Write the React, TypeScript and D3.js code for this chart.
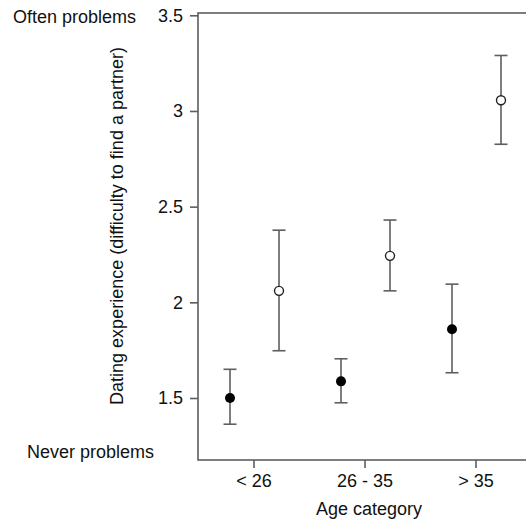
import React, { useEffect, useRef } from "react";
import * as d3 from "d3";

// age groups on the x axis
const categories = ["< 26", "26 - 35", "> 35"];
// two groups per age category: filled dots and open dots
const groups = ["filled", "open"];

const filledMean = [1.5, 1.587, 1.859];
const filledLow = [1.363, 1.475, 1.632];
const filledHigh = [1.65, 1.705, 2.095];

const openMean = [2.06, 2.243, 3.056];
const openLow = [1.747, 2.06, 2.826];
const openHigh = [2.377, 2.43, 3.29];

const yTicks = [1.5, 2, 2.5, 3, 3.5];

const W = 526;
const H = 521;
const FONT = "'Liberation Sans', Arial, sans-serif";

function App() {
  const svgRef: any = useRef(null);

  useEffect(() => {
    draw();
  }, []);

  const draw = () => {
    const root = d3.select(svgRef.current);
    root.selectAll("*").remove();

    const left = 198;
    const top = 13;
    const bottom = 460;
    const axisColor = "#5e5e5e";

    const y = d3.scaleLinear().domain([1.176, 3.512]).range([bottom, top]);
    const x = d3.scaleBand().domain(categories).range([198.5, 531.5]);
    const offset = d3.scalePoint().domain(groups).range([-24, 25]);

    const svg = root.append("g");

    // frame
    svg
      .append("rect")
      .attr("x", left)
      .attr("y", top)
      .attr("width", 340)
      .attr("height", bottom - top)
      .attr("fill", "none")
      .attr("stroke", axisColor)
      .attr("stroke-width", 1.6);

    // y axis
    svg
      .append("g")
      .attr("transform", `translate(${left},0)`)
      .call(
        d3
          .axisLeft(y)
          .tickValues(yTicks)
          .tickSize(8)
          .tickSizeOuter(0)
          .tickPadding(7)
          .tickFormat(d3.format("~g") as any)
      )
      .call((g: any) => g.select(".domain").remove())
      .call((g: any) =>
        g.selectAll(".tick line").attr("stroke", axisColor).attr("stroke-width", 1.6)
      )
      .call((g: any) =>
        g
          .selectAll(".tick text")
          .attr("fill", "#111")
          .style("font-family", FONT)
          .style("font-size", "18px")
      );

    // x axis
    svg
      .append("g")
      .attr("transform", `translate(0,${bottom})`)
      .call(d3.axisBottom(x).tickSize(8).tickSizeOuter(0).tickPadding(6))
      .call((g: any) => g.select(".domain").remove())
      .call((g: any) =>
        g.selectAll(".tick line").attr("stroke", axisColor).attr("stroke-width", 1.6)
      )
      .call((g: any) =>
        g
          .selectAll(".tick text")
          .attr("fill", "#111")
          .style("font-family", FONT)
          .style("font-size", "18px")
      );

    const series = [
      { key: "filled", mean: filledMean, low: filledLow, high: filledHigh, fill: "#000", r: 5 },
      { key: "open", mean: openMean, low: openLow, high: openHigh, fill: "#fff", r: 4.5 },
    ];

    series.forEach((s) => {
      const data = categories.map((c, i) => ({
        cx: (x(c) as number) + x.bandwidth() / 2 + (offset(s.key) as number),
        mean: s.mean[i],
        low: s.low[i],
        high: s.high[i],
      }));

      const bars = svg.append("g").attr("stroke", axisColor).attr("stroke-width", 1.6);

      bars
        .selectAll(".stem")
        .data(data)
        .enter()
        .append("line")
        .attr("x1", (d: any) => d.cx)
        .attr("x2", (d: any) => d.cx)
        .attr("y1", (d: any) => y(d.low))
        .attr("y2", (d: any) => y(d.high));

      ["low", "high"].forEach((k) => {
        bars
          .selectAll(".cap-" + k)
          .data(data)
          .enter()
          .append("line")
          .attr("x1", (d: any) => d.cx - 6.5)
          .attr("x2", (d: any) => d.cx + 6.5)
          .attr("y1", (d: any) => y(d[k]))
          .attr("y2", (d: any) => y(d[k]));
      });

      svg
        .append("g")
        .selectAll("circle")
        .data(data)
        .enter()
        .append("circle")
        .attr("cx", (d: any) => d.cx)
        .attr("cy", (d: any) => y(d.mean))
        .attr("r", s.r)
        .attr("fill", s.fill)
        .attr("stroke", s.key === "open" ? "#222" : "none")
        .attr("stroke-width", 1.4);
    });

    const text = (t: string, tx: number, ty: number, anchor: string, rotate = 0) =>
      svg
        .append("text")
        .attr("transform", `translate(${tx},${ty}) rotate(${rotate})`)
        .attr("text-anchor", anchor)
        .attr("fill", "#111")
        .style("font-family", FONT)
        .style("font-size", "18px")
        .text(t);

    text("Often problems", 13, 22.5, "start");
    text("Never problems", 27, 458, "start");
    text("Dating experience (difficulty to find a partner)", 123, 226, "middle", -90);
    text("Age category", 369, 515, "middle");
  };

  return (
    <div style={{ position: "absolute", left: 0, top: 0 }}>
      <svg ref={svgRef} width={W} height={H} style={{ display: "block", background: "#fff" }} />
    </div>
  );
}

export default App;
